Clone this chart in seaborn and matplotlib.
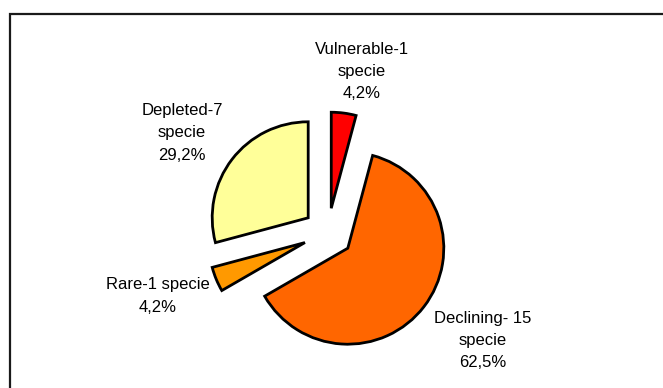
import matplotlib
matplotlib.use("Agg")
import matplotlib.pyplot as plt
from matplotlib.patches import Rectangle
import seaborn as sns

# Threat status of the recorded species (counts)
categories = ["Vulnerable-1\nspecie", "Declining- 15\nspecie", "Rare-1 specie", "Depleted-7\nspecie"]
counts = [1, 15, 1, 7]
colors = ["#FF0000", "#FF6600", "#FF9900", "#FFFF99"]
# label anchors in pie-radius units
label_x = [0.354, 1.615, -1.771, -1.52]
label_y = [1.68, -1.12, -0.656, 1.042]

sns.set_theme(style="white")
plt.rcParams["font.family"] = ["Liberation Sans", "DejaVu Sans"]

W, H, DPI = 663, 388, 100
fig = plt.figure(figsize=(W / DPI, H / DPI), dpi=DPI)
fig.patch.set_facecolor("white")

# pie centre and radius in pixels
cx, cy, r = 328, 155, 96
ax = fig.add_axes([0, 0, 1, 1])
ax.set_axis_off()

total = sum(counts)
wedges, _ = ax.pie(
    counts,
    colors=colors,
    startangle=90,
    counterclock=False,
    explode=[0.26] * len(counts),
    wedgeprops=dict(edgecolor="black", linewidth=2, joinstyle="miter"),
)

for lab, n, x, y in zip(categories, counts, label_x, label_y):
    pct = f"{100 * n / total:.1f}%".replace(".", ",")
    ax.text(x, y, f"{lab}\n{pct}", ha="center", va="center",
            fontsize=12, color="black", linespacing=1.6)

ax.set_xlim(-cx / r, (W - cx) / r)
ax.set_ylim(-cy / r, (H - cy) / r)
ax.set_aspect("auto")

# outer frame of the chart area
frame = Rectangle((10 / W, -0.1), 1.2, 1.1 - 14 / H, transform=fig.transFigure,
                  fill=False, edgecolor="#1a1a1a", linewidth=1.6)
fig.patches.append(frame)

fig.savefig("out.png", dpi=DPI, facecolor="white")
